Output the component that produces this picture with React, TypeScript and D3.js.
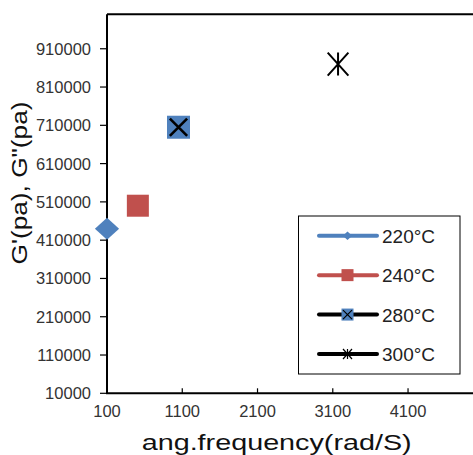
import * as d3 from 'd3';

// series: one point per temperature
const seriesNames = ['220°C', '240°C', '280°C', '300°C'];
const freqValues = [100, 510, 1050, 3170];
const modulusValues = [440000, 500000, 705000, 870000];

const xTicks = [100, 1100, 2100, 3100, 4100];
const yTicks = [10000, 110000, 210000, 310000, 410000, 510000, 610000, 710000, 810000, 910000];

const W = 473;
const H = 455;

const blue = '#4f81bd';
const red = '#c0504d';

const Marker = ({ kind, x, y, s }: { kind: number; x: number; y: number; s: number }) => {
  const h = s / 2;
  if (kind === 0) {
    return <path d={`M${x},${y - h}L${x + h * 1.1},${y}L${x},${y + h}L${x - h * 1.1},${y}Z`} fill={blue} />;
  }
  if (kind === 1) {
    return <rect x={x - h} y={y - h} width={s} height={s} fill={red} />;
  }
  if (kind === 2) {
    const k = h * 0.75;
    return (
      <g>
        <rect x={x - h} y={y - h} width={s} height={s} fill={blue} />
        <path d={`M${x - k},${y - k}L${x + k},${y + k}M${x + k},${y - k}L${x - k},${y + k}`}
          stroke="#000" strokeWidth={s > 15 ? 2.6 : 1.2} />
      </g>
    );
  }
  const hx = h * 0.9;
  return (
    <path d={`M${x - hx},${y - h}L${x + hx},${y + h}M${x + hx},${y - h}L${x - hx},${y + h}M${x},${y - h}L${x},${y + h}`}
      stroke="#000" strokeWidth={s > 15 ? 2 : 1.2} fill="none" />
  );
};

const App = () => {
  // plot area runs past the right edge of the picture
  const x = d3.scaleLinear().domain([100, 5100]).range([107, 483.3]);
  const y = d3.scaleLinear().domain([10000, 1000000]).range([393.3, 14.3]);
  const lineColors = [blue, red, '#000', '#000'];
  const legendY = d3.scalePoint<number>().domain([0, 1, 2, 3]).range([235.7, 354]);
  const sizes = [22, 22, 23, 23];
  const legendSizes = [8.5, 12, 12, 10];

  return (
    <div style={{ position: 'absolute', left: 0, top: 0 }}>
      <svg width={W} height={H} style={{ display: 'block', fontFamily: 'Arial, "Liberation Sans", sans-serif' }}>
        <rect width={W} height={H} fill="#fff" />
        {/* frame */}
        <path d={`M${x(100)},${y(1000000)}L${x(5100)},${y(1000000)}`} stroke="#000" strokeWidth={2} />
        <path d={`M${x(100)},${y(1000000)}L${x(100)},${y(10000)}L${x(5100)},${y(10000)}`} stroke="#000" strokeWidth={2} fill="none" />

        {yTicks.map(t => (
          <g key={t}>
            <line x1={x(100) - 7} x2={x(100)} y1={y(t)} y2={y(t)} stroke="#000" strokeWidth={1.2} />
            <text x={91} y={y(t) + 6} textAnchor="end" fontSize={16.5} fill="#333">{t}</text>
          </g>
        ))}
        {xTicks.map(t => (
          <g key={t}>
            {t > 100 && <line x1={x(t)} x2={x(t)} y1={y(10000) - 5} y2={y(10000)} stroke="#000" strokeWidth={1.2} />}
            <text x={x(t)} y={417} textAnchor="middle" fontSize={16.5} fill="#333">{t}</text>
          </g>
        ))}

        <text x={276.7} y={450} textAnchor="middle" fontSize={22.5} fill="#111"
          textLength={270} lengthAdjust="spacingAndGlyphs">ang.frequency(rad/S)</text>
        <text transform="translate(27,183) rotate(-90)" textAnchor="middle" fontSize={22.5} fill="#111"
          textLength={163} lengthAdjust="spacingAndGlyphs">G'(pa), G"(pa)</text>

        {seriesNames.map((n, i) => (
          <Marker key={n} kind={i} x={x(freqValues[i])} y={y(modulusValues[i])} s={sizes[i]} />
        ))}

        {/* legend */}
        <rect x={298.5} y={216} width={161.5} height={158} fill="#fff" stroke="#000" strokeWidth={1} />
        {seriesNames.map((n, i) => (
          <g key={n}>
            <line x1={319} x2={377} y1={legendY(i)} y2={legendY(i)} stroke={lineColors[i]} strokeWidth={4} strokeLinecap="round" />
            <Marker kind={i} x={347.5} y={legendY(i)!} s={legendSizes[i]} />
            <text x={382} y={legendY(i)! + 7} fontSize={19} fill="#222">{n}</text>
          </g>
        ))}
      </svg>
    </div>
  );
};

export default App;
